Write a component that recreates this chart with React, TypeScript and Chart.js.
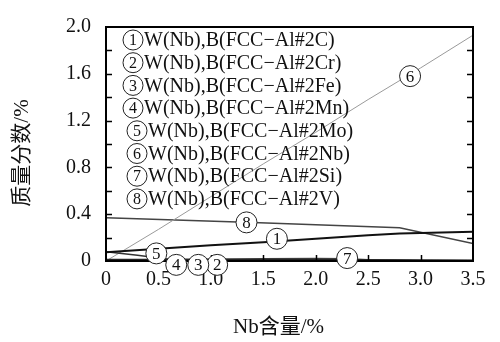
import { useEffect, useRef } from "react";
import { Chart, registerables } from "chart.js";

Chart.register(...registerables);

// Phase names (legend order) and the digit shown in each circled marker
const phaseNames = [
  "W(Nb),B(FCC−Al#2C)",
  "W(Nb),B(FCC−Al#2Cr)",
  "W(Nb),B(FCC−Al#2Fe)",
  "W(Nb),B(FCC−Al#2Mn)",
  "W(Nb),B(FCC−Al#2Mo)",
  "W(Nb),B(FCC−Al#2Nb)",
  "W(Nb),B(FCC−Al#2Si)",
  "W(Nb),B(FCC−Al#2V)",
];
const phaseDigits = ["1", "2", "3", "4", "5", "6", "7", "8"];

// Nb content (%) and phase mass fraction (%) for each alloying case
const nbC = [0, 0.5, 1.0, 1.5, 2.0, 2.5, 2.8, 3.0, 3.5];
const fracC = [0.075, 0.105, 0.135, 0.16, 0.19, 0.22, 0.235, 0.24, 0.25];

const nbCr = [0, 0.5, 1.0, 1.5, 2.0, 2.5, 3.0, 3.5];
const fracCr = [0.012, 0.012, 0.012, 0.013, 0.012, 0.008, 0.005, 0.004];

const nbFe = [0, 0.5, 1.0, 1.5, 2.0, 2.5, 3.0, 3.5];
const fracFe = [0.01, 0.01, 0.009, 0.008, 0.007, 0.006, 0.005, 0.004];

const nbMn = [0, 0.5, 1.0, 1.5, 2.0, 2.5, 3.0, 3.5];
const fracMn = [0.008, 0.007, 0.006, 0.005, 0.005, 0.004, 0.004, 0.003];

const nbMo = [0, 0.3, 0.6, 1.0, 2.0, 3.5];
const fracMo = [0.08, 0.05, 0.015, 0.006, 0.004, 0.002];

const nbNb = [0, 0.5, 1.0, 1.5, 2.0, 2.5, 3.0, 3.5];
const fracNb = [0, 0.27, 0.55, 0.83, 1.1, 1.38, 1.65, 1.93];

const nbSi = [0, 0.5, 1.0, 1.5, 2.0, 2.3, 2.5, 3.0, 3.5];
const fracSi = [0.005, 0.01, 0.015, 0.02, 0.022, 0.02, 0.01, 0.006, 0.005];

const nbV = [0, 1.4, 2.8, 3.5];
const fracV = [0.37, 0.33, 0.285, 0.15];

// Where each circled marker sits on its curve (Nb %, mass fraction %)
const markerNb = [1.63, 1.06, 0.88, 0.67, 0.48, 2.9, 2.3, 1.34];
const markerFrac = [0.19, -0.033, -0.033, -0.033, 0.065, 1.58, 0.025, 0.33];

// Axis ticks
const xTickValues = [0, 0.5, 1.0, 1.5, 2.0, 2.5, 3.0, 3.5];
const xTickLabels = ["0", "0.5", "1.0", "1.5", "2.0", "2.5", "3.0", "3.5"];
const yTickValues = [0, 0.4, 0.8, 1.2, 1.6, 2.0];
const yTickLabels = ["0", "0.4", "0.8", "1.2", "1.6", "2.0"];
const yTickMarks = [0.2, 0.4, 0.6, 0.8, 1.0, 1.2, 1.4, 1.6, 1.8];

const xTitle = "Nb含量/%";
const yTitle = "质量分数/%";

const SERIF = "'Liberation Serif', 'Times New Roman', 'Noto Sans CJK SC', serif";

const seriesX = [nbC, nbCr, nbFe, nbMn, nbMo, nbNb, nbSi, nbV];
const seriesY = [fracC, fracCr, fracFe, fracMn, fracMo, fracNb, fracSi, fracV];
const seriesColor = ["#111", "#222", "#222", "#222", "#333", "#9a9a9a", "#444", "#444"];
const seriesWidth = [2, 1.5, 1.5, 1.5, 1.5, 1, 1.5, 1.5];

function circledDigit(ctx: CanvasRenderingContext2D, cx: number, cy: number, r: number, digit: string, size: number) {
  ctx.beginPath();
  ctx.arc(cx, cy, r, 0, Math.PI * 2);
  ctx.fillStyle = "#fff";
  ctx.fill();
  ctx.lineWidth = 1;
  ctx.strokeStyle = "#222";
  ctx.stroke();
  ctx.fillStyle = "#111";
  ctx.font = `${size}px ${SERIF}`;
  ctx.textAlign = "center";
  ctx.textBaseline = "middle";
  ctx.fillText(digit, cx, cy + 1);
}

const decorPlugin = {
  id: "decor",
  afterDraw(chart: any) {
    const { ctx, chartArea: a, scales } = chart;
    const x = scales.x;
    const y = scales.y;
    ctx.save();

    // frame
    ctx.strokeStyle = "#000";
    ctx.lineWidth = 2;
    ctx.strokeRect(a.left, a.top, a.right - a.left, a.bottom - a.top);

    // inward tick marks
    ctx.lineWidth = 1.5;
    ctx.beginPath();
    for (const v of yTickMarks) {
      const py = Math.round(y.getPixelForValue(v)) + 0.5;
      ctx.moveTo(a.left, py);
      ctx.lineTo(a.left + 6, py);
      ctx.moveTo(a.right, py);
      ctx.lineTo(a.right - 6, py);
    }
    for (const v of xTickValues.slice(1, -1)) {
      const px = Math.round(x.getPixelForValue(v)) + 0.5;
      ctx.moveTo(px, a.bottom);
      ctx.lineTo(px, a.bottom - 6);
    }
    ctx.stroke();

    // circled markers on curves
    for (let i = 0; i < markerNb.length; i++) {
      circledDigit(ctx, x.getPixelForValue(markerNb[i]), y.getPixelForValue(markerFrac[i]), 10.5, phaseDigits[i], 17);
    }

    // legend
    const lineGap = 22.7;
    for (let i = 0; i < phaseNames.length; i++) {
      const indent = i >= 4 ? 4 : 0;
      const cy = a.top + 13 + i * lineGap;
      const cx = a.left + 27 + indent;
      circledDigit(ctx, cx, cy, 10, phaseDigits[i], 16);
      ctx.fillStyle = "#111";
      ctx.font = `20px ${SERIF}`;
      ctx.textAlign = "left";
      ctx.textBaseline = "middle";
      ctx.fillText(phaseNames[i], cx + 11, cy + 1);
    }

    // axis titles
    ctx.fillStyle = "#111";
    ctx.font = `21px ${SERIF}`;
    ctx.textAlign = "center";
    ctx.textBaseline = "middle";
    ctx.fillText(xTitle, (a.left + a.right) / 2 - 11, 327);
    ctx.translate(22, (a.top + a.bottom) / 2 + 9);
    ctx.rotate(-Math.PI / 2);
    ctx.fillText(yTitle, 0, 0);

    ctx.restore();
  },
};

export default function App() {
  const canvasRef = useRef<HTMLCanvasElement>(null);

  useEffect(() => {
    document.body.style.margin = "0";
    const canvas = canvasRef.current;
    if (!canvas) return;

    const datasets = phaseNames.map((name, i) => ({
      label: name,
      data: seriesX[i].map((nb, j) => ({ x: nb, y: seriesY[i][j] })),
      borderColor: seriesColor[i],
      borderWidth: seriesWidth[i],
      pointRadius: 0,
      fill: false,
      tension: 0,
    }));

    const chart = new Chart(canvas, {
      type: "line",
      data: { datasets },
      plugins: [decorPlugin],
      options: {
        animation: false,
        responsive: false,
        maintainAspectRatio: false,
        layout: { padding: { left: 0, top: 16, right: 27, bottom: 0 } },
        plugins: { legend: { display: false }, tooltip: { enabled: false } },
        scales: {
          x: {
            type: "linear",
            min: 0,
            max: 3.5,
            grid: { display: true, drawOnChartArea: false, drawTicks: false },
            border: { display: false },
            afterBuildTicks: (s: any) => {
              s.ticks = xTickValues.map((v) => ({ value: v }));
            },
            afterFit: (s: any) => {
              s.height = 81;
            },
            ticks: {
              padding: 7,
              color: "#111",
              font: { family: SERIF, size: 20 },
              maxRotation: 0,
              callback: (_v: any, i: number) => xTickLabels[i],
            },
          },
          y: {
            type: "linear",
            min: 0,
            max: 2.0,
            grid: { display: true, drawOnChartArea: false, drawTicks: false },
            border: { display: false },
            afterBuildTicks: (s: any) => {
              s.ticks = yTickValues.map((v) => ({ value: v }));
            },
            afterFit: (s: any) => {
              s.width = 106;
            },
            ticks: {
              padding: 15,
              color: "#111",
              font: { family: SERIF, size: 20 },
              callback: (_v: any, i: number) => yTickLabels[i],
            },
          },
        },
      },
    });

    return () => chart.destroy();
  }, []);

  return <canvas ref={canvasRef} width={500} height={342} style={{ display: "block" }} />;
}
